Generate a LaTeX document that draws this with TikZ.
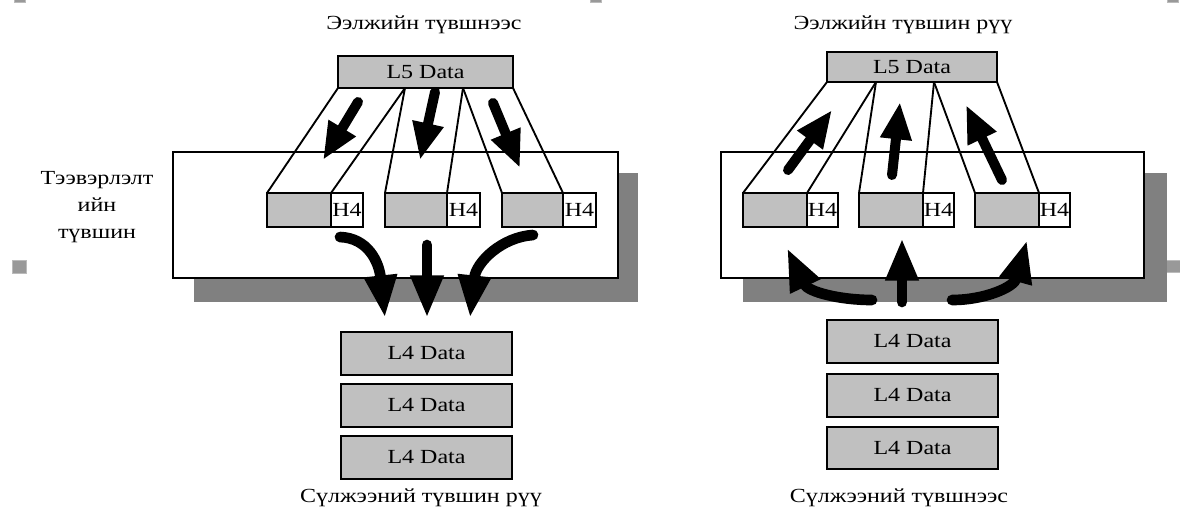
\documentclass[tikz,border=0pt]{standalone}
\usepackage{fontspec}
\setmainfont{Liberation Serif}[FakeStretch=1.2]
\usetikzlibrary{arrows.meta,fit}
\definecolor{boxgray}{HTML}{C0C0C0}
\definecolor{shadowgray}{HTML}{808080}
\definecolor{markgray}{HTML}{999999}
\definecolor{markedge}{HTML}{BBBBBB}
\begin{document}
\begin{tikzpicture}[x=0.75pt,y=-0.75pt,
  every node/.style={font=\fontsize{15}{20.25}\selectfont, inner sep=0pt, outer sep=0pt},
  databox/.style={draw=black, line width=1.2pt, fill=boxgray},
  layerbox/.style={draw=black, line width=1pt, fill=white},
  shadowbox/.style={fill=shadowgray, draw=none},
  hdrbox/.style={draw=black, line width=1pt, fill=white},
  segbox/.style={draw=black, line width=1pt, fill=boxgray},
  fan/.style={line width=1.4pt},
  bigarrow/.style={line width=7.5pt, line cap=round, -{Triangle[length=28pt,width=22pt]}},
  lowarrow/.style={line width=8pt, line cap=round, -{Triangle[length=32pt,width=23pt]}},
  marksq/.style={fill=markgray, draw=markedge, line width=0.6pt}
]
\clip (0,0) rectangle (1180,514);
\fill[white] (0,0) rectangle (1180,514);

% anchor marks
\node[marksq, fit={(12,260) (26,273)}] (m1) {};
\node[marksq, fit={(1166,260) (1182,272)}] (m2) {};
\node[marksq, fit={(14,-8) (25,2)}] (m3) {};
\node[marksq, fit={(590,-8) (601,2)}] (m4) {};
\node[marksq, fit={(1167,-8) (1178,2)}] (m5) {};

% ================= LEFT PANEL =================
\node (tL) at (424,25) {Ээлжийн түвшнээс};
\node[align=center] (lbl) at (97,207) {Тээвэрлэлт\\ийн\\түвшин};

\node[shadowbox, fit={(194,173) (638,302)}] (shL) {};
\node[layerbox, fit={(173,152) (618,278)}] (trL) {};

\node[segbox, fit={(267,193) (331,227)}] (gL1) {};
\node[hdrbox, fit={(331,193) (363,227)}, label={center:H4}] (hL1) {};
\node[segbox, fit={(385,193) (447,227)}] (gL2) {};
\node[hdrbox, fit={(447,193) (480,227)}, label={center:H4}] (hL2) {};
\node[segbox, fit={(502,193) (563,227)}] (gL3) {};
\node[hdrbox, fit={(563,193) (596,227)}, label={center:H4}] (hL3) {};

\coordinate (l5La) at (405,88);
\coordinate (l5Lb) at (463,88);
\coordinate (l5Lw) at (338,88);
\coordinate (l5Le) at (513,88);
\draw[fan] (l5Lw) -- (gL1.north west);
\draw[fan] (l5La) -- (hL1.north west);
\draw[fan] (l5La) -- (gL2.north west);
\draw[fan] (l5Lb) -- (hL2.north west);
\draw[fan] (l5Lb) -- (gL3.north west);
\draw[fan] (l5Le) -- (hL3.north west);

\node[databox, fit={(338,56) (513,88)}, label={center:L5 Data}] (l5L) {};

\coordinate (aL1s) at (358,102); \coordinate (aL1e) at (323,160);
\coordinate (aL2s) at (435,92);  \coordinate (aL2e) at (420,160);
\coordinate (aL3s) at (493,103); \coordinate (aL3e) at (520,168);
\draw[bigarrow] (aL1s) -- (aL1e);
\draw[bigarrow] (aL2s) -- (aL2e);
\draw[bigarrow] (aL3s) -- (aL3e);

\coordinate (bL1s) at (340,237); \coordinate (bL1e) at (385,318);
\coordinate (bL2s) at (427,245); \coordinate (bL2e) at (427,318);
\coordinate (bL3s) at (533,235); \coordinate (bL3e) at (470,318);
\draw[lowarrow] (bL1s) .. controls (368,238) and (379,262) .. (bL1e);
\draw[lowarrow] (bL2s) -- (bL2e);
\draw[lowarrow] (bL3s) .. controls (502,237) and (476,262) .. (bL3e);

\node[databox, fit={(341,332) (512,375)}, label={center:L4 Data}] (l4L1) {};
\node[databox, fit={(341,384) (512,427)}, label={center:L4 Data}] (l4L2) {};
\node[databox, fit={(341,436) (512,479)}, label={center:L4 Data}] (l4L3) {};
\node (bL) at (421,498) {Сүлжээний түвшин рүү};

% ================= RIGHT PANEL =================
\node (tR) at (903,25) {Ээлжийн түвшин рүү};

\node[shadowbox, fit={(743,173) (1167,302)}] (shR) {};
\node[layerbox, fit={(721,152) (1144,278)}] (trR) {};

\node[segbox, fit={(743,193) (807,227)}] (gR1) {};
\node[hdrbox, fit={(807,193) (838,227)}, label={center:H4}] (hR1) {};
\node[segbox, fit={(859,193) (923,227)}] (gR2) {};
\node[hdrbox, fit={(923,193) (954,227)}, label={center:H4}] (hR2) {};
\node[segbox, fit={(975,193) (1039,227)}] (gR3) {};
\node[hdrbox, fit={(1039,193) (1070,227)}, label={center:H4}] (hR3) {};

\coordinate (l5Ra) at (876,82);
\coordinate (l5Rb) at (934,82);
\coordinate (l5Rw) at (827,82);
\coordinate (l5Re) at (997,82);
\draw[fan] (l5Rw) -- (gR1.north west);
\draw[fan] (l5Ra) -- (hR1.north west);
\draw[fan] (l5Ra) -- (gR2.north west);
\draw[fan] (l5Rb) -- (hR2.north west);
\draw[fan] (l5Rb) -- (gR3.north west);
\draw[fan] (l5Re) -- (hR3.north west);

\node[databox, fit={(827,52) (997,82)}, label={center:L5 Data}] (l5R) {};

\coordinate (aR1s) at (788,170);  \coordinate (aR1e) at (832,110);
\coordinate (aR2s) at (892,175);  \coordinate (aR2e) at (900,102);
\coordinate (aR3s) at (1002,180); \coordinate (aR3e) at (966,105);
\draw[bigarrow] (aR1s) -- (aR1e);
\draw[bigarrow] (aR2s) -- (aR2e);
\draw[bigarrow] (aR3s) -- (aR3e);

\coordinate (bR1s) at (872,300); \coordinate (bR1e) at (787,248);
\coordinate (bR2s) at (902,302); \coordinate (bR2e) at (902,238);
\coordinate (bR3s) at (952,300); \coordinate (bR3e) at (1027,240);
\draw[lowarrow] (bR1s) .. controls (840,300) and (808,292) .. (bR1e);
\draw[lowarrow] (bR2s) -- (bR2e);
\draw[lowarrow] (bR3s) .. controls (985,300) and (1014,287) .. (bR3e);

\node[databox, fit={(827,320) (998,363)}, label={center:L4 Data}] (l4R1) {};
\node[databox, fit={(827,374) (998,417)}, label={center:L4 Data}] (l4R2) {};
\node[databox, fit={(827,427) (998,469)}, label={center:L4 Data}] (l4R3) {};
\node (bR) at (899,498) {Сүлжээний түвшнээс};
\end{tikzpicture}
\end{document}
